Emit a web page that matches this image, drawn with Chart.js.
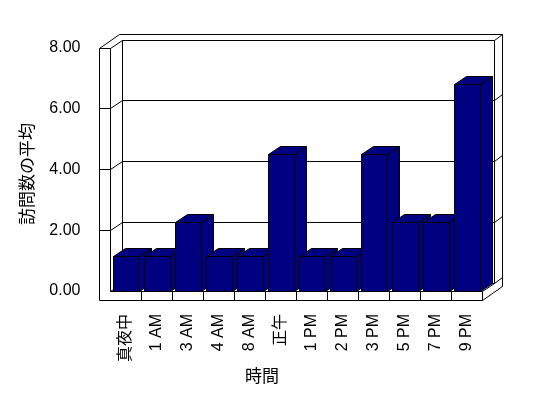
<!DOCTYPE html>
<html>
<head>
<meta charset="utf-8">
<script src="https://cdn.jsdelivr.net/npm/chart.js@4/dist/chart.umd.min.js"></script>
<style>
  body { margin: 0; background: #fff; }
  canvas { display: block; }
</style>
</head>
<body>
<canvas id="visitChart" width="548" height="398"></canvas>
<script>
// hours of the day and average visit count per hour
var hours = ["真夜中", "1 AM", "3 AM", "4 AM", "8 AM", "正午", "1 PM", "2 PM", "3 PM", "5 PM", "7 PM", "9 PM"];
var avgVisits = [1.125, 1.125, 2.25, 1.125, 1.125, 4.5, 1.125, 1.125, 4.5, 2.25, 2.25, 6.8];
var yTicks = [0, 2, 4, 6, 8];
var xTitle = "時間";
var yTitle = "訪問数の平均";

var FONT = "'Liberation Sans', 'Noto Sans CJK JP', sans-serif";
var NAVY = "#000080";

// depth of floor, thickness of back wall / left wall / floor
var DX = 12, DY = 8, BX = 8, BY = 6, WT = 11, FT = 9;

function sn(v) { return Math.floor(v) + 0.5; }

function line(ctx, pts) {
    ctx.beginPath();
    ctx.moveTo(sn(pts[0][0]), sn(pts[0][1]));
    for (var i = 1; i < pts.length; i++) ctx.lineTo(sn(pts[i][0]), sn(pts[i][1]));
    ctx.stroke();
}

function poly(ctx, pts) {
    ctx.beginPath();
    ctx.moveTo(sn(pts[0][0]), sn(pts[0][1]));
    for (var i = 1; i < pts.length; i++) ctx.lineTo(sn(pts[i][0]), sn(pts[i][1]));
    ctx.closePath();
    ctx.fill();
    ctx.stroke();
}

var box3d = {
    id: 'box3d',
    beforeDatasetsDraw: function (chart) {
        var ctx = chart.ctx, ca = chart.chartArea, ys = chart.scales.y;
        var L = ca.left, R = ca.right;
        var T = ys.getPixelForValue(8), B = ys.getPixelForValue(0);
        ctx.save();
        ctx.strokeStyle = '#000';
        ctx.lineWidth = 1;
        // gridlines: front stub, wall diagonal, back wall line, right stub
        yTicks.forEach(function (v) {
            var y = ys.getPixelForValue(v);
            if (v > 0) line(ctx, [[L - WT, y], [L, y]]);
            line(ctx, [[L, y], [L + DX, y - DY], [R + DX, y - DY], [R + DX + BX, y - DY - BY]]);
        });
        // back wall inner edges
        line(ctx, [[L + DX, T - DY], [L + DX, B - DY]]);
        line(ctx, [[R + DX, T - DY], [R + DX, B - DY]]);
        // outer top and right
        line(ctx, [[L - WT, T], [L - WT + DX + BX, T - DY - BY], [R + DX + BX, T - DY - BY], [R + DX + BX, B + FT - DY - BY], [R, B + FT]]);
        // left wall
        line(ctx, [[L - WT, T], [L - WT, B + FT]]);
        line(ctx, [[L, T], [L, B]]);
        // floor
        line(ctx, [[L - WT, B + FT], [R, B + FT], [R, B], [R + DX, B - DY]]);
        line(ctx, [[L, B], [R, B]]);
        var xs = chart.scales.x;
        for (var i = 1; i < hours.length; i++) {
            var x = (xs.getPixelForValue(i - 1) + xs.getPixelForValue(i)) / 2;
            line(ctx, [[x, B], [x, B + FT]]);
        }
        // bars: side, top, front, left to right
        var meta = chart.getDatasetMeta(0);
        ctx.fillStyle = NAVY;
        meta.data.forEach(function (bar) {
            var p = bar.getProps(['x', 'y', 'base', 'width'], true);
            var l = p.x - p.width / 2, r = p.x + p.width / 2, t = p.y, b = p.base;
            poly(ctx, [[r, t], [r + DX, t - DY], [r + DX, b - DY], [r, b]]);
            poly(ctx, [[l, t], [r, t], [r + DX, t - DY], [l + DX, t - DY]]);
            poly(ctx, [[l, t], [r, t], [r, b], [l, b]]);
        });
        ctx.restore();
    },
    afterDraw: function (chart) {
        var ctx = chart.ctx;
        ctx.save();
        ctx.fillStyle = '#000';
        ctx.font = "17px " + FONT;
        ctx.textAlign = 'center';
        ctx.textBaseline = 'middle';
        ctx.fillText(xTitle, 262, 377);
        ctx.translate(28, 174);
        ctx.rotate(-Math.PI / 2);
        ctx.fillText(yTitle, 0, 0);
        ctx.restore();
    }
};

Chart.defaults.color = '#000';
Chart.defaults.font.family = FONT;
Chart.defaults.font.size = 16;

var ctx = document.getElementById("visitChart").getContext('2d');
var visitChart = new Chart(ctx, {
    type: 'bar',
    data: {
        labels: hours,
        datasets: [{
            label: yTitle,
            data: avgVisits,
            backgroundColor: 'rgba(0,0,0,0)',  // drawn in 3D by the plugin
            borderWidth: 0,
            barPercentage: 26 / 31,
            categoryPercentage: 1
        }]
    },
    options: {
        responsive: false,
        animation: false,
        layout: {
            padding: { left: 0, right: 65.5, top: 48, bottom: 0 }
        },
        scales: {
            x: {
                grid: { display: false },
                border: { display: false },
                ticks: { autoSkip: false, minRotation: 90, maxRotation: 90, padding: 15 },
                afterFit: function (scale) { scale.height = 107; }
            },
            y: {
                min: 0,
                max: 8,
                grid: { display: false },
                border: { display: false },
                ticks: {
                    stepSize: 2,
                    padding: 22,
                    callback: function (v) { return v.toFixed(2); }
                },
                afterFit: function (scale) { scale.width = 110.5; }
            }
        },
        plugins: {
            legend: { display: false },
            tooltip: { enabled: false }
        }
    },
    plugins: [box3d]
});
</script>
</body>
</html>
